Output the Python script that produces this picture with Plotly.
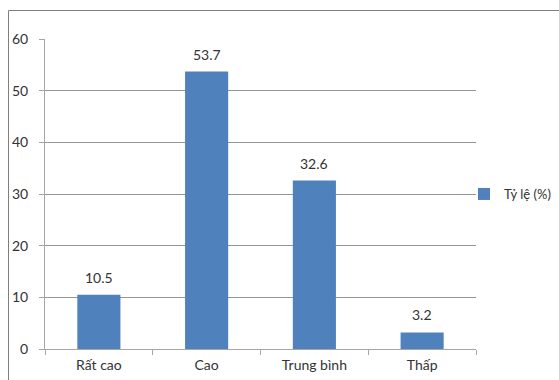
import plotly.graph_objects as go

categories = ["Rất cao", "Cao", "Trung bình", "Thấp"]
values = [10.5, 53.7, 32.6, 3.2]
series_name = "Tỷ lệ (%)"
y_ticks = [0, 10, 20, 30, 40, 50, 60]

W, H = 559, 380
L, R, T, B = 45, 83, 39, 31

fig = go.Figure(go.Bar(
    x=categories, y=values, name=series_name,
    marker=dict(color="#4F81BD", line=dict(width=0)),
    width=0.4,
))

for c, v in zip(categories, values):
    fig.add_annotation(x=c, y=v, text=f"{v:g}", showarrow=False,
                       yanchor="bottom", yshift=7,
                       font=dict(size=14, color="#333"))

pw = W - L - R
ph = H - T - B
def px_x(x):
    return (x - L) / pw
def px_y(y):
    return (H - B - y) / ph

fig.update_layout(
    width=W, height=H,
    margin=dict(l=L, r=R, t=T, b=B, pad=0, autoexpand=False),
    paper_bgcolor="white", plot_bgcolor="white",
    font=dict(family="Lato, Open Sans, sans-serif", size=14, color="#333"),
    showlegend=True,
    legend=dict(x=px_x(464), y=0.5, xanchor="left", yanchor="middle",
                font=dict(size=13, color="#333"), itemwidth=30,
                bgcolor="rgba(0,0,0,0)"),
    xaxis=dict(showline=True, linecolor="#A6A6A6", linewidth=1,
               ticks="outside", tickson="boundaries", ticklen=5, tickcolor="#A6A6A6",
               showgrid=False, tickfont=dict(size=14, color="#333"),
               ticklabelstandoff=3),
    yaxis=dict(range=[0, 60], tickvals=y_ticks, showline=True, linecolor="#A6A6A6",
               linewidth=1, ticks="outside", ticklen=5, tickcolor="#A6A6A6",
               showgrid=True, gridcolor="#969696", gridwidth=1, zeroline=False,
               tickfont=dict(size=14, color="#333"), ticklabelstandoff=8),
)

# outer border (left and top visible)
fig.add_shape(type="line", xref="paper", yref="paper", layer="above",
              x0=px_x(8.5), x1=px_x(8.5), y0=px_y(10.5), y1=px_y(380),
              line=dict(color="#7F7F7F", width=1))
fig.add_shape(type="line", xref="paper", yref="paper", layer="above",
              x0=px_x(8.5), x1=px_x(559), y0=px_y(10.5), y1=px_y(10.5),
              line=dict(color="#7F7F7F", width=1))

fig.write_html("out.html", config={"displayModeBar": False},
               post_script="document.body.style.margin='0';document.body.style.overflow='hidden';")
